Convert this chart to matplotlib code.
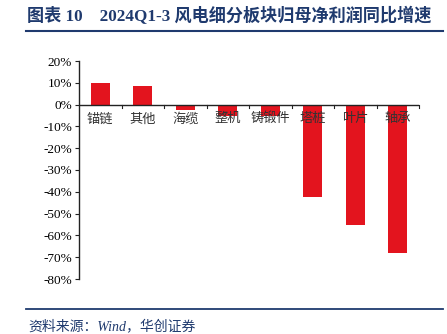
import matplotlib
matplotlib.use("Agg")
import matplotlib.pyplot as plt
from matplotlib.lines import Line2D

categories = ['锚链', '其他', '海缆', '整机', '铸锻件', '塔桩', '叶片', '轴承']
growth = [10.1, 8.5, -2.3, -5.0, -5.0, -42.6, -55.2, -68.2]
yticks = [20, 10, 0, -10, -20, -30, -40, -50, -60, -70, -80]

title = '图表 10    2024Q1-3 风电细分板块归母净利润同比增速'
source = '资料来源：Wind，华创证券'

navy = '#1F3A6E'
bar_red = '#E3141E'
mixed = ['Liberation Serif', 'Noto Sans CJK SC']

W, H = 447, 334
fig = plt.figure(figsize=(W / 100, H / 100), dpi=100)

ax = fig.add_axes([79 / W, 1 - 279 / H, (419 - 79) / W, (279 - 61) / H])
x = list(range(len(categories)))
ax.bar(x, growth, width=0.45, color=bar_red, zorder=2)
ax.set_xlim(-0.5, len(categories) - 0.5)
ax.set_ylim(-80, 20)
ax.set_yticks(yticks)
ax.set_yticklabels([f'{v}%' for v in yticks], family='Liberation Serif', fontsize=9.5)
ax.tick_params(axis='y', length=3, width=0.8, pad=2, color='#222222')

for s in ['top', 'right', 'bottom']:
    ax.spines[s].set_visible(False)
ax.spines['left'].set_linewidth(1.0)
ax.spines['left'].set_color('#222222')

# zero line with category separator ticks
ax.axhline(0, color='#222222', lw=1.0, zorder=3)
ax.set_xticks([])
for i in range(1, len(categories) + 1):
    ax.plot([i - 0.5, i - 0.5], [0, -1.4], color='#222222', lw=0.8, zorder=3, clip_on=False)
for i, c in enumerate(categories):
    ax.text(i, -3.6, c, ha='center', va='top', fontsize=9.5,
            family='Noto Sans CJK SC', fontweight='light', color='#333333', zorder=4)

# header and footer
fig.text(27 / W, 1 - 16 / H, title, family=mixed, fontsize=12.3, fontweight='bold',
         color=navy, va='center', ha='left')
fig.add_artist(Line2D([26 / W, 443 / W], [1 - 31 / H, 1 - 31 / H], color=navy, lw=1.5))
fig.add_artist(Line2D([26 / W, 443 / W], [1 - 309 / H, 1 - 309 / H], color=navy, lw=1.3))
fig.text(28 / W, 1 - 326 / H, source, family=mixed, fontsize=10, style='italic',
         color=navy, va='center', ha='left')

fig.savefig('out.png', dpi=100)
